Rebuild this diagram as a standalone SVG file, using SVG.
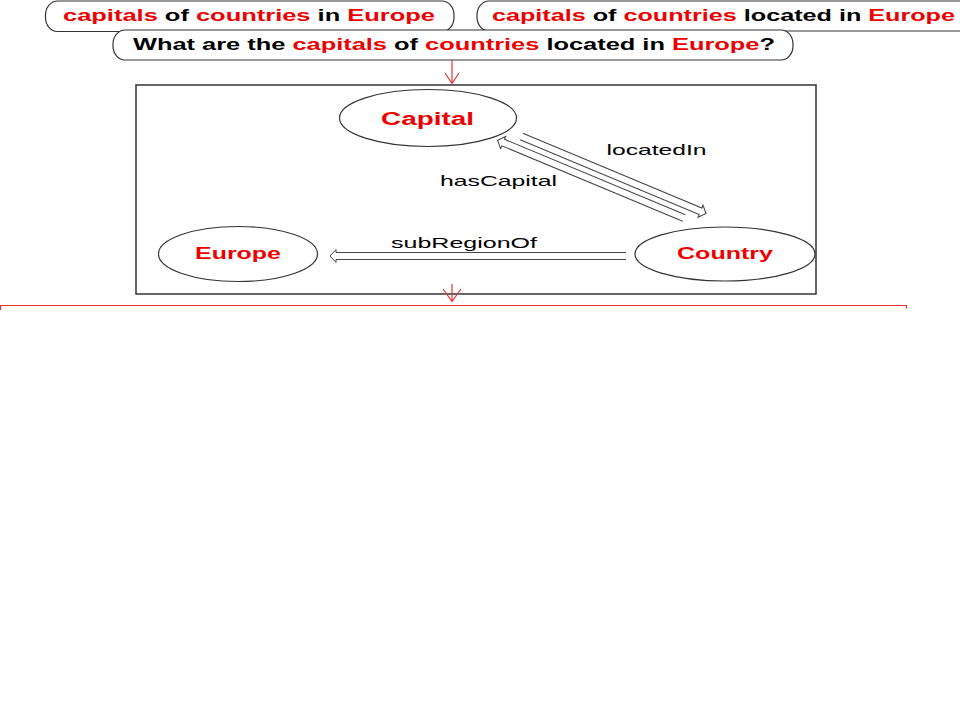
<svg xmlns="http://www.w3.org/2000/svg" width="960" height="720" viewBox="0 0 960 720">
<style>
.pill{fill:#fff;stroke:#333;stroke-width:1.2}
.q{font-family:"Liberation Sans",Arial,sans-serif;font-weight:bold;font-size:16px;fill:#000}
.r{fill:#ee0000}
.node{fill:#fff;stroke:#333;stroke-width:1.2}
.nt{font-family:"Liberation Sans",Arial,sans-serif;font-weight:bold;fill:#ee0000}
.lab{font-family:"Liberation Sans",Arial,sans-serif;font-size:15px;fill:#000}
.arr{fill:none;stroke:#444;stroke-width:1}
.red{fill:none;stroke:#e63333;stroke-width:1.2}
</style>
<rect width="960" height="720" fill="#fff"/>
<g id="query1">
<rect class="pill" x="45.5" y="1" width="408.5" height="30.5" rx="12" ry="14"/>
<text class="q" x="63" y="20.5" textLength="372" lengthAdjust="spacingAndGlyphs"><tspan class="r">capitals</tspan> of <tspan class="r">countries</tspan> in <tspan class="r">Europe</tspan></text>
</g>
<g id="query2">
<rect class="pill" x="477" y="1" width="500" height="30" rx="12" ry="14"/>
<text class="q" x="492" y="20.5" textLength="463" lengthAdjust="spacingAndGlyphs"><tspan class="r">capitals</tspan> of <tspan class="r">countries</tspan> located in <tspan class="r">Europe</tspan></text>
</g>
<g id="query3">
<rect class="pill" x="113" y="30" width="680" height="30" rx="12" ry="14"/>
<text class="q" x="133" y="49.5" textLength="642" lengthAdjust="spacingAndGlyphs">What are the <tspan class="r">capitals</tspan> of <tspan class="r">countries</tspan> located in <tspan class="r">Europe</tspan>?</text>
</g>
<g id="graphBox">
<rect x="136" y="85" width="680" height="209" fill="none" stroke="#333" stroke-width="1.5"/>
</g>
<g id="capital">
<ellipse class="node" cx="428" cy="118" rx="88.5" ry="28.5"/>
<text class="nt" x="381" y="125" font-size="18" textLength="93" lengthAdjust="spacingAndGlyphs">Capital</text>
</g>
<g id="europe">
<ellipse class="node" cx="238" cy="254" rx="79.5" ry="27.5"/>
<text class="nt" x="195" y="258.5" font-size="16" textLength="86" lengthAdjust="spacingAndGlyphs">Europe</text>
</g>
<g id="country">
<ellipse class="node" cx="725" cy="254" rx="90" ry="27"/>
<text class="nt" x="677" y="258.5" font-size="16" textLength="96" lengthAdjust="spacingAndGlyphs">Country</text>
</g>
<g id="connectors">
<path class="arr" transform="translate(521.5,136.5) rotate(22.65)" d="M0,-3.5 H194 V-6.5 L200,0 L194,6.5 V3.5 H0"/>
<path class="arr" transform="translate(684,218) rotate(202.64)" d="M0,-3.5 H196 V-6.5 L202,0 L196,6.5 V3.5 H0"/>
<path class="arr" transform="translate(626,256) rotate(180)" d="M0,-3.5 H290 V-6.5 L296,0 L290,6.5 V3.5 H0"/>
<text class="lab" x="606.5" y="155" textLength="100" lengthAdjust="spacingAndGlyphs">locatedIn</text>
<text class="lab" x="440" y="186" textLength="117" lengthAdjust="spacingAndGlyphs">hasCapital</text>
<text class="lab" x="391" y="248.3" textLength="146" lengthAdjust="spacingAndGlyphs">subRegionOf</text>
<path class="red" d="M452,60 V83.5 M445,73 L452,83.5 L459,73"/>
<path class="red" d="M452,284 V301.5 M443,289 L452,301.5 L461,289"/>
<path class="red" d="M0.6,310 V305.5 H906.5 V308.5"/>
</g>
</svg>
